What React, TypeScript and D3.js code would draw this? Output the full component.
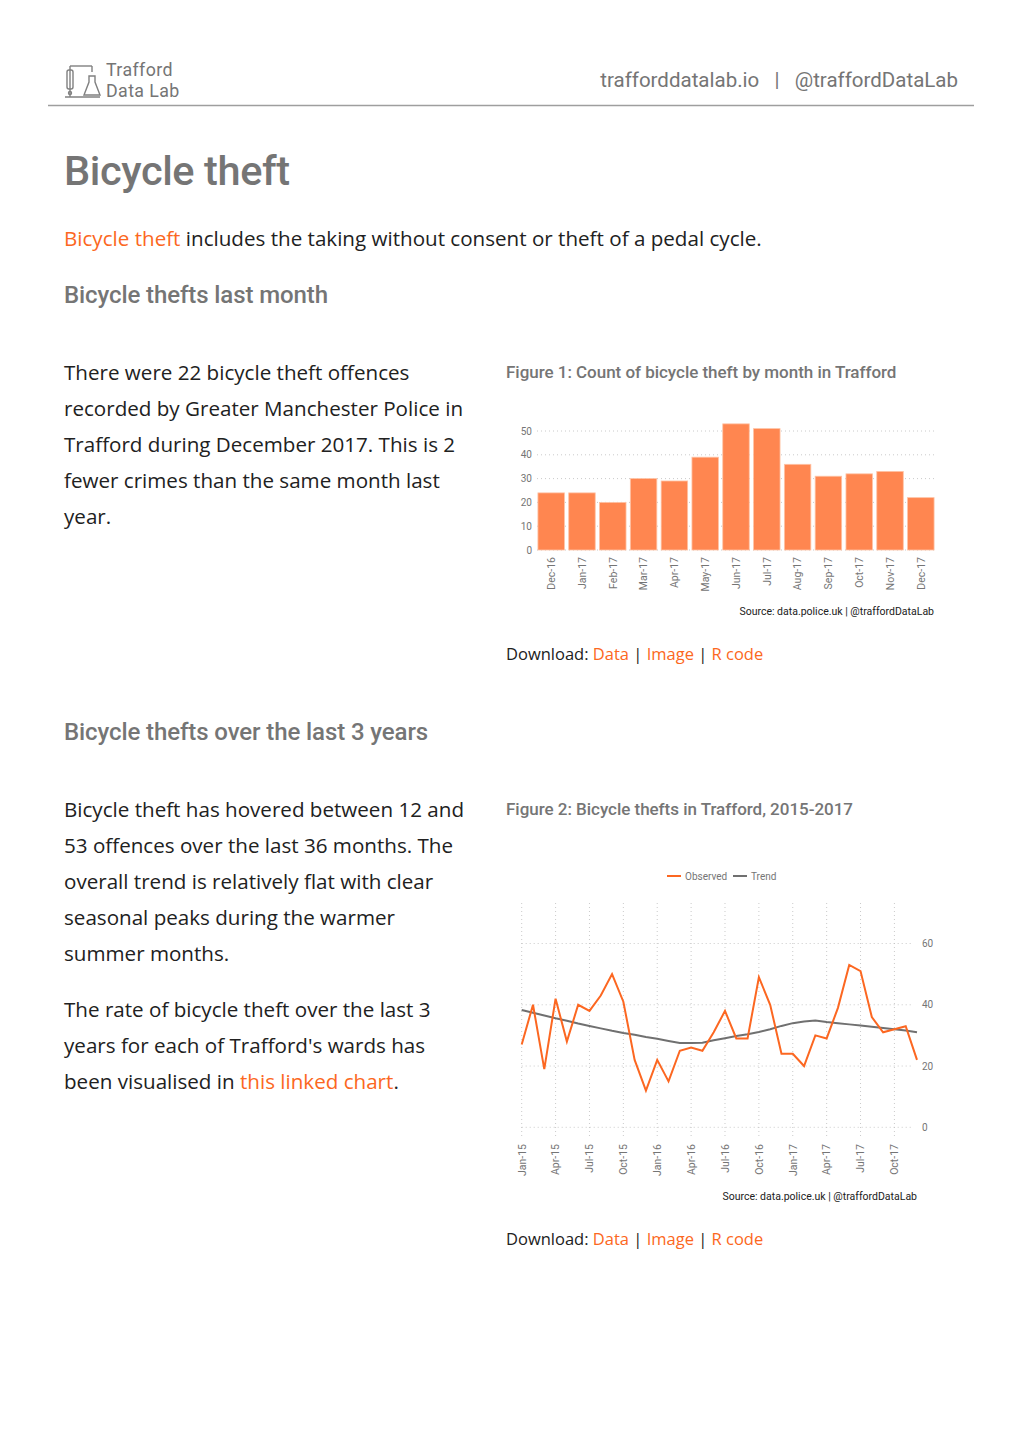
import React from "react";
import * as d3 from "d3";

const barMonths = ["Dec-16","Jan-17","Feb-17","Mar-17","Apr-17","May-17","Jun-17","Jul-17","Aug-17","Sep-17","Oct-17","Nov-17","Dec-17"];
const barValues = [24,24,20,30,29,39,53,51,36,31,32,33,22];
const barTicks = [0,10,20,30,40,50];

const lineObserved = [27,40,19,42,28,40,38,43,50,41,22,12,22,15,25,26,25,31,38,29,29,49,40,24,24,20,30,29,39,53,51,36,31,32,33,22];
const lineTrend = [38.3,37.4,36.5,35.6,34.8,33.9,33.1,32.3,31.5,30.8,30.2,29.5,28.9,28.2,27.5,27.5,27.6,28.4,29.1,29.8,30.4,31.1,32.0,33.1,34.0,34.5,34.9,34.4,34.0,33.6,33.2,32.8,32.4,32.0,31.6,31.0];
const lineTicks = [0,20,40,60];
const lineXTicks = ["Jan-15","Apr-15","Jul-15","Oct-15","Jan-16","Apr-16","Jul-16","Oct-16","Jan-17","Apr-17","Jul-17","Oct-17"];

const ORANGE = "#fc6721";
const BAR = "#ff8650";
const GREY = "#757575";
const TEXT = "#212121";
const SANS = "'Open Sans', sans-serif";
const ROBOTO = "Roboto, sans-serif";
const AX = 10.5;

function BarChart() {
  const x = d3.scaleBand<string>().domain(barMonths).range([537, 935]).paddingInner(0.14).paddingOuter(0.03);
  const y = d3.scaleLinear().domain([0, 50]).range([550, 431]);
  return (
    <g>
      {barTicks.map((t) => (
        <g key={t}>
          <line x1={537} x2={935} y1={y(t)} y2={y(t)} stroke="#bdbdbd" strokeWidth={0.8} strokeDasharray="1,3" />
          <text x={532} y={y(t)} dy="0.35em" textAnchor="end" fontSize={10} fill={GREY} fontFamily={ROBOTO}>{t}</text>
        </g>
      ))}
      {barMonths.map((m, i) => (
        <rect key={m} x={x(m)} y={y(barValues[i])} width={x.bandwidth()} height={y(0) - y(barValues[i])} fill={BAR} stroke="#ffc3a5" strokeWidth={0.8} />
      ))}
      {barMonths.map((m) => (
        <text key={m} transform={`translate(${(x(m) as number) + x.bandwidth() / 2 + 3.8},557) rotate(-90)`} textAnchor="end" fontSize={AX} fill={GREY} fontFamily={ROBOTO}>{m}</text>
      ))}
      <text x={934} y={615} textAnchor="end" fontSize={AX} fill={TEXT} fontFamily={ROBOTO}>Source: data.police.uk | @traffordDataLab</text>
    </g>
  );
}

function LineChart() {
  const x = d3.scaleLinear().domain([0, 35]).range([521.7, 917]);
  const y = d3.scaleLinear().domain([0, 60]).range([1127.3, 943.5]);
  const line = d3.line<number>().x((_, i) => x(i)).y((d) => y(d)).curve(d3.curveLinear);
  return (
    <g>
      {lineXTicks.map((t, k) => (
        <line key={t} x1={x(k * 3)} x2={x(k * 3)} y1={903} y2={1137} stroke="#bdbdbd" strokeWidth={0.8} strokeDasharray="1,3" />
      ))}
      {lineTicks.map((t) => (
        <g key={t}>
          <line x1={521.7} x2={913} y1={y(t)} y2={y(t)} stroke="#bdbdbd" strokeWidth={0.8} strokeDasharray="1,3" />
          <text x={922} y={y(t)} dy="0.35em" fontSize={10} fill={GREY} fontFamily={ROBOTO}>{t}</text>
        </g>
      ))}
      <path d={line(lineTrend) || ""} fill="none" stroke="#707070" strokeWidth={2} />
      <path d={line(lineObserved) || ""} fill="none" stroke={ORANGE} strokeWidth={2} strokeLinejoin="miter" />
      {lineXTicks.map((t, k) => (
        <text key={t} transform={`translate(${x(k * 3) + 3.8},1144) rotate(-90)`} textAnchor="end" fontSize={AX} fill={GREY} fontFamily={ROBOTO}>{t}</text>
      ))}
      <line x1={667} x2={681} y1={876} y2={876} stroke={ORANGE} strokeWidth={2} />
      <text x={685} y={876} dy="0.35em" fontSize={10} fill={GREY} fontFamily={ROBOTO}>Observed</text>
      <line x1={733} x2={747} y1={876} y2={876} stroke="#707070" strokeWidth={2} />
      <text x={751} y={876} dy="0.35em" fontSize={10} fill={GREY} fontFamily={ROBOTO}>Trend</text>
      <text x={917} y={1200} textAnchor="end" fontSize={AX} fill={TEXT} fontFamily={ROBOTO}>Source: data.police.uk | @traffordDataLab</text>
    </g>
  );
}

function Logo() {
  return (
    <g stroke="#808080" strokeWidth={1.4} fill="none">
      <line x1={70} y1={66} x2={92} y2={66} />
      <line x1={70} y1={66} x2={70} y2={97} />
      <rect x={67} y={70} width={6} height={19} rx={2} />
      <line x1={65} y1={97} x2={100} y2={97} />
      <line x1={92} y1={66} x2={92} y2={72} />
      <path d="M89,76 L89,82 L84,95 L100,95 L95,82 L95,76 Z" />
      <circle cx={70} cy={93} r={1.5} />
    </g>
  );
}

export default function App() {
  const BODY = 20.6;
  return (
    <svg width={1020} height={1443} style={{ position: "absolute", left: 0, top: 0, background: "#fff" }}>
      <rect width={1020} height={1443} fill="#fff" />
      <Logo />
      <text x={106} y={76} fontSize={17.8} fill={GREY} fontFamily={ROBOTO} letterSpacing={0.4}>Trafford</text>
      <text x={106} y={97} fontSize={17.8} fill={GREY} fontFamily={ROBOTO} letterSpacing={0.4}>Data Lab</text>
      <text x={958} y={87} textAnchor="end" fontSize={20.5} fill={GREY} fontFamily={ROBOTO} xmlSpace="preserve">trafforddatalab.io   |   @traffordDataLab</text>
      <line x1={48} x2={974} y1={105.5} y2={105.5} stroke="#9e9e9e" strokeWidth={1.5} />

      <text x={64} y={185} fontSize={41.5} fontWeight={500} fill={GREY} fontFamily={ROBOTO} letterSpacing={-0.4}>Bicycle theft</text>
      <text x={64} y={246} fontSize={BODY} fill={TEXT} fontFamily={SANS}>
        <tspan fill={ORANGE}>Bicycle theft</tspan> includes the taking without consent or theft of a pedal cycle.
      </text>
      <text x={64} y={303} fontSize={24} fontWeight={500} fill={GREY} fontFamily={ROBOTO} letterSpacing={-0.1}>Bicycle thefts last month</text>

      {["There were 22 bicycle theft offences", "recorded by Greater Manchester Police in", "Trafford during December 2017. This is 2", "fewer crimes than the same month last", "year."].map((s, i) => (
        <text key={i} x={64} y={380 + i * 36} fontSize={BODY} fill={TEXT} fontFamily={SANS}>{s}</text>
      ))}

      <text x={506} y={378} fontSize={17} fontWeight={500} fill={GREY} fontFamily={ROBOTO} letterSpacing={-0.03}>Figure 1: Count of bicycle theft by month in Trafford</text>
      <BarChart />
      <text x={506} y={660} fontSize={16.5} fill={TEXT} fontFamily={SANS}>
        Download: <tspan fill={ORANGE}>Data</tspan> | <tspan fill={ORANGE}>Image</tspan> | <tspan fill={ORANGE}>R code</tspan>
      </text>

      <text x={64} y={740} fontSize={24} fontWeight={500} fill={GREY} fontFamily={ROBOTO} letterSpacing={-0.1}>Bicycle thefts over the last 3 years</text>
      {["Bicycle theft has hovered between 12 and", "53 offences over the last 36 months. The", "overall trend is relatively flat with clear", "seasonal peaks during the warmer", "summer months."].map((s, i) => (
        <text key={i} x={64} y={817 + i * 36} fontSize={BODY} fill={TEXT} fontFamily={SANS}>{s}</text>
      ))}
      {["The rate of bicycle theft over the last 3", "years for each of Trafford's wards has"].map((s, i) => (
        <text key={i} x={64} y={1017 + i * 36} fontSize={BODY} fill={TEXT} fontFamily={SANS}>{s}</text>
      ))}
      <text x={64} y={1089} fontSize={BODY} fill={TEXT} fontFamily={SANS}>
        been visualised in <tspan fill={ORANGE}>this linked chart</tspan>.
      </text>

      <text x={506} y={815} fontSize={17} fontWeight={500} fill={GREY} fontFamily={ROBOTO} letterSpacing={-0.03}>Figure 2: Bicycle thefts in Trafford, 2015-2017</text>
      <LineChart />
      <text x={506} y={1245} fontSize={16.5} fill={TEXT} fontFamily={SANS}>
        Download: <tspan fill={ORANGE}>Data</tspan> | <tspan fill={ORANGE}>Image</tspan> | <tspan fill={ORANGE}>R code</tspan>
      </text>
    </svg>
  );
}
